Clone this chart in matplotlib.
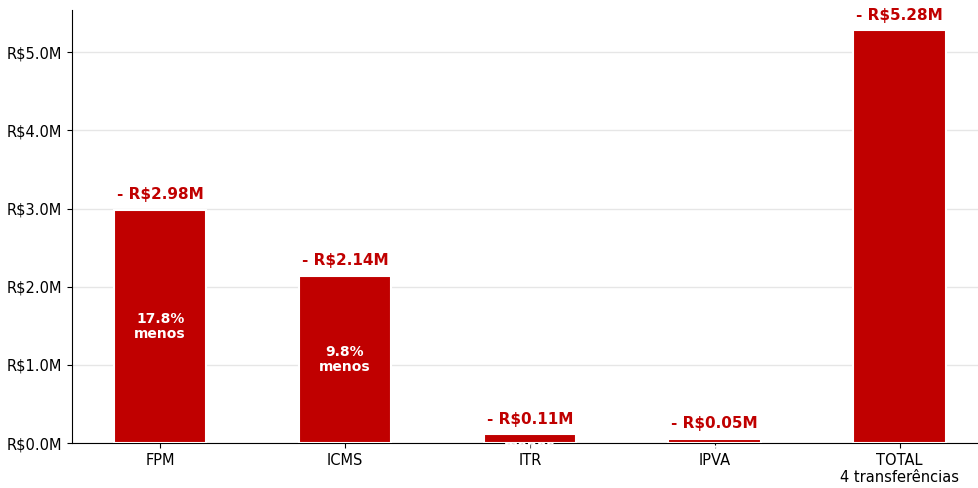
import matplotlib
matplotlib.use("Agg")
import matplotlib.pyplot as plt
from matplotlib.ticker import FuncFormatter

categories = ["FPM", "ICMS", "ITR", "IPVA", "TOTAL\n4 transferências"]
losses = [2.98, 2.14, 0.11, 0.05, 5.28]  # R$ millions
pct_less = ["17.8%", "9.8%", "6.5%", "2.1%", None]

RED = "#c00000"

fig = plt.figure(figsize=(9.79, 4.88), dpi=100)
ax = fig.add_axes([72 / 979, 45 / 488, 1 - 72 / 979, 1 - 55 / 488])

x = range(len(categories))
ax.bar(x, losses, width=0.5, color=RED, edgecolor="white", linewidth=1.5, zorder=3)

for i, (val, pct) in enumerate(zip(losses, pct_less)):
    ax.text(i, val + 0.1, f"- R${val:.2f}M", ha="center", va="bottom",
            color=RED, fontsize=11, fontweight="bold", zorder=5)
    if pct:
        ax.text(i, val / 2, f"{pct}\nmenos", ha="center", va="center",
                color="white", fontsize=10, fontweight="bold", zorder=4,
                linespacing=1.1)

ax.set_xticks(list(x))
ax.set_xticklabels(categories, fontsize=10.5)
ax.set_xlim(-0.477, 4.43)
ax.set_ylim(0, 5.54)
ax.set_yticks([0, 1, 2, 3, 4, 5])
ax.yaxis.set_major_formatter(FuncFormatter(lambda v, _: f"R${v:.1f}M"))
ax.tick_params(axis="y", labelsize=10.5)
ax.grid(axis="y", color="#e6e6e6", linewidth=1, zorder=0)
ax.spines["top"].set_visible(False)
ax.spines["right"].set_visible(False)

fig.savefig("out.png", dpi=100)
